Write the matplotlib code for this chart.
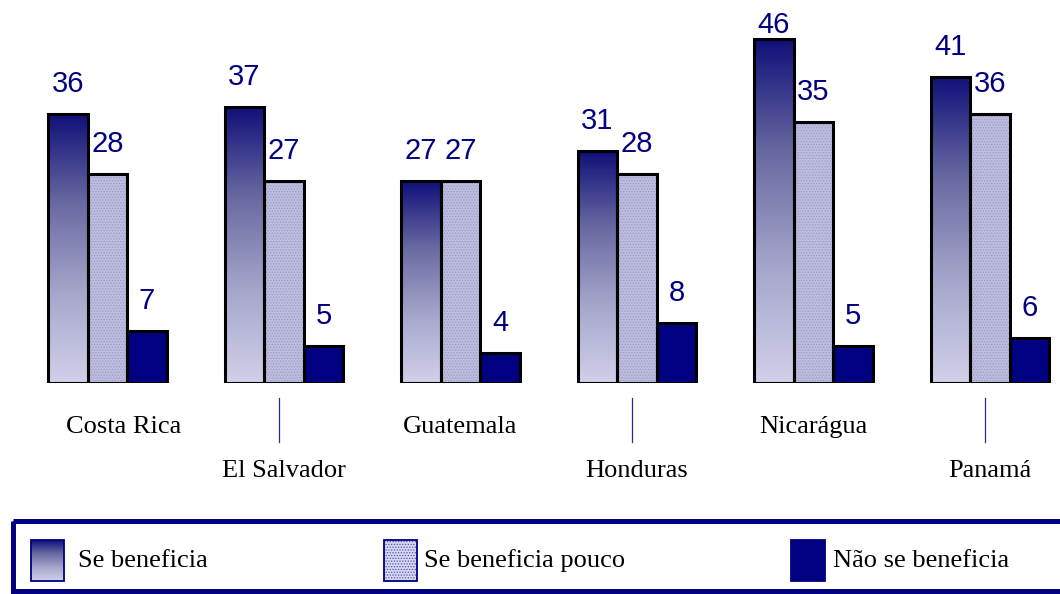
import numpy as np
import matplotlib
matplotlib.use("Agg")
import matplotlib.pyplot as plt
from matplotlib.patches import Rectangle
from matplotlib.colors import LinearSegmentedColormap

# data
countries = ["Costa Rica", "El Salvador", "Guatemala", "Honduras", "Nicarágua", "Panamá"]
se_beneficia = [36, 37, 27, 31, 46, 41]
beneficia_pouco = [28, 27, 27, 28, 35, 36]
nao_beneficia = [7, 5, 4, 8, 5, 6]
legend_labels = ["Se beneficia", "Se beneficia pouco", "Não se beneficia"]

NAVY = "#000080"
LAVENDER = "#bdbddd"
DOTS = "#9999c8"
grad_cmap = LinearSegmentedColormap.from_list("grad", ["#10107a", "#6a6aa2", "#a6a6cc", "#d0d0ea"])
gradient = np.linspace(0, 1, 256).reshape(-1, 1)

plt.rcParams["hatch.linewidth"] = 0.6

fig = plt.figure(figsize=(10.6, 5.94), dpi=100)
ax = fig.add_axes([0, 211 / 594, 1, 383 / 594])

group_w = 176.5
px_per_unit = 7.47
x = np.arange(len(countries))
bw = 39.5 / group_w
ymax = 383 / px_per_unit

# bar 1: vertical gradient
for xi, v in zip(x - bw, se_beneficia):
    ax.imshow(gradient, cmap=grad_cmap, aspect="auto", origin="upper",
              extent=(xi - bw / 2, xi + bw / 2, 0, v), zorder=1)
ax.bar(x - bw, se_beneficia, bw, facecolor="none", edgecolor="black", linewidth=2.2, zorder=3)

# bar 2: dotted light lavender
ax.bar(x, beneficia_pouco, bw, color=LAVENDER, edgecolor=DOTS, hatch="......", linewidth=0, zorder=2)
ax.bar(x, beneficia_pouco, bw, facecolor="none", edgecolor="black", linewidth=2.2, zorder=3)

# bar 3: solid navy
ax.bar(x + bw, nao_beneficia, bw, color=NAVY, edgecolor="black", linewidth=2.2, zorder=3)

# value labels (kept inside the top edge of the figure)
label_gap = 22 / px_per_unit
label_max = ymax - 33 / px_per_unit
for offs, vals in [(-bw, se_beneficia), (0, beneficia_pouco), (bw, nao_beneficia)]:
    for xi, v in zip(x + offs, vals):
        ax.text(xi, min(v + label_gap, label_max), str(v), ha="center", va="baseline",
                fontsize=21, color=NAVY, family="Liberation Sans")

ax.set_xlim(-107.5 / group_w, (1060 - 107.5) / group_w)
ax.set_ylim(0, ymax)
ax.axis("off")

# category labels, staggered in two rows
trans = ax.get_xaxis_transform()
for i, name in enumerate(countries):
    if i % 2 == 0:
        dx = 0.09 if i == 0 else 0
        ax.text(i + dx, -0.115, name, transform=trans, ha="center", va="center",
                fontsize=19, family="Liberation Serif", clip_on=False)
    else:
        ax.plot([i - 0.03, i - 0.03], [-0.04, -0.155], transform=trans, color="#2a2a9a",
                linewidth=0.9, clip_on=False)
        ax.text(i, -0.23, name, transform=trans, ha="center", va="center",
                fontsize=19, family="Liberation Serif", clip_on=False)

# legend drawn in pixel space
lax = fig.add_axes([0, 0, 1, 1], zorder=-1)
lax.set_xlim(0, 1060)
lax.set_ylim(594, 0)
lax.axis("off")
lax.add_patch(Rectangle((12.5, 520.5), 1060, 70, fill=False, edgecolor=NAVY, linewidth=3.6))

lax.imshow(gradient, cmap=grad_cmap, aspect="auto", origin="upper",
           extent=(31, 64, 581, 540), zorder=1)
lax.add_patch(Rectangle((31, 540), 33, 41, fill=False, edgecolor=NAVY, linewidth=1.3, zorder=2))
lax.add_patch(Rectangle((384, 540), 33, 41, facecolor="#d8d8f0", edgecolor="#5050b0",
                        hatch="......", linewidth=0, zorder=1))
lax.add_patch(Rectangle((384, 540), 33, 41, fill=False, edgecolor=NAVY, linewidth=1.3, zorder=2))
lax.add_patch(Rectangle((791, 540), 34, 41, facecolor=NAVY, edgecolor=NAVY, linewidth=1.3))

for px, label in zip([78, 424, 833], legend_labels):
    lax.text(px, 561, label, ha="left", va="center", fontsize=19, family="Liberation Serif")

fig.savefig("out.png", dpi=100)
